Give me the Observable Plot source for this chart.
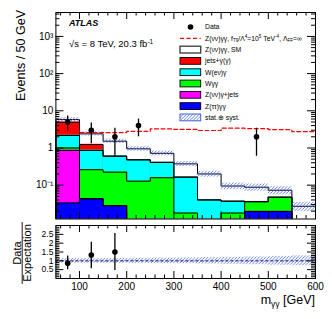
<!DOCTYPE html>
<html><head><meta charset="utf-8">
<script src="https://cdn.jsdelivr.net/npm/d3@7"></script>
<script src="https://cdn.jsdelivr.net/npm/@observablehq/plot@0.6"></script>
<style>
html,body{margin:0;padding:0;background:#fff;}
#chart{position:relative;width:332px;height:319px;overflow:hidden;font-family:"Liberation Sans",Arial,Helvetica,sans-serif;}
#chart svg{position:absolute;left:0;overflow:visible;}
</style></head><body>
<div id="chart"></div>
<script>
// ---- data ----
const edges      = [50,100,150,200,250,300,350,400,450,500,550,600];
const zTauTau    = [0.033,0.043,0.028,0,0,0,0,0,0.0195,0.0195,0];
const zNuNuGJets = [0.827,0,0,0,0,0,0,0,0,0,0];
const wGG        = [0.14,0.217,0.196,0.128,0.158,0.0178,0,0.0178,0.0165,0.0275,0];
const wEnuG      = [1.17,0.6,0.376,0.352,0.25,0.146,0.04,0.019,0,0,0];
const jetsG      = [2.73,0.38,0,0,0,0,0,0,0,0,0];
const zNuNuGG    = [0.9,1.16,0.92,0.47,0.31,0.21,0.16,0.058,0.052,0.026,0.027];
const aTGC       = [2.9,2.6,2.6,2.8,3.25,3.15,2.95,3.4,3.3,3.1,2.75];
const relUnc     = [0.13,0.13,0.13,0.14,0.15,0.16,0.18,0.2,0.22,0.25,0.28];
const dataX  = [75,125,175,225,475];
const dataY  = [5,3,2,4,2];
const dataLo = [2.8,1.3,0.6,2.0,0.6];
const dataHi = [7.2,4.7,3.4,6.0,3.4];
const ratioX  = [75,125,175];
const ratioY  = [0.87,1.33,1.5];
const ratioLo = [0.5,0.55,0.45];
const ratioHi = [1.27,2.05,2.55];
const xTicksMajor = [100,200,300,400,500,600];
const xTickLabels = ["100","200","300","400","500","600"];
const yTicksMajor = [0.1,1,10,100,1000];
const yTickLabels = ["10⁻¹","1","10","10²","10³"];
const rTicksMajor = [0.5,1,1.5,2,2.5];
const rTickLabels = ["0.5","1","1.5","2","2.5"];
const compNames  = ["Z(ττ)γγ","Z(νν)γ+jets","Wγγ","W(eν)γ","jets+γ(γ)","Z(νν)γγ, SM"];
const compColors = ["#0000ff","#ff00ff","#00ff00","#00ffff","#ff0000","#ffffff"];

// ---- setup ----
const FONT='"Liberation Sans",Arial,Helvetica,sans-serif';
const NS="http://www.w3.org/2000/svg";
const chart=document.getElementById("chart");
const defsSvg=document.createElementNS(NS,"svg");
defsSvg.setAttribute("width","0");defsSvg.setAttribute("height","0");
defsSvg.style.position="absolute";
defsSvg.innerHTML=`<defs><pattern id="hatch" patternUnits="userSpaceOnUse" width="3.2" height="3.2"><path d="M-0.8,0.8 L0.8,-0.8 M0,3.2 L3.2,0 M2.4,4 L4,2.4" stroke="#4a68e8" stroke-width="0.8"/></pattern></defs>`;
chart.appendChild(defsSvg);

const nb=edges.length-1;
const bins=d3.range(nb).map(i=>({x1:edges[i],x2:edges[i+1],i}));
const comps=[zTauTau,zNuNuGJets,wGG,wEnuG,jetsG,zNuNuGG].map((v,k)=>({v,name:compNames[k],fill:compColors[k]}));
let run=bins.map(()=>0);
comps.forEach(c=>{run=run.map((s,i)=>s+c.v[i]);c.top=run.slice();});
const total=run;
const data=dataX.map((x,i)=>({x,y:dataY[i],lo:dataLo[i],hi:dataHi[i]}));
const ratio=ratioX.map((x,i)=>({x,y:ratioY[i],lo:ratioLo[i],hi:ratioHi[i]}));

const yMin=0.0123,yMax=4400,floor=yMin*0.6;
function stepPts(vals){
  const p=[{x:edges[0],y:floor}];
  vals.forEach((v,i)=>p.push({x:edges[i],y:Math.max(v,floor)}));
  p.push({x:edges[nb],y:Math.max(vals[nb-1],floor)});
  p.push({x:edges[nb],y:floor});
  return p;
}
function linePts(vals){
  const p=vals.map((v,i)=>({x:edges[i],y:v}));
  p.push({x:edges[nb],y:vals[nb-1]});
  return p;
}
const xMinor=d3.range(60,600,20).filter(v=>v%100!==0);
const yMinor=[];
for(let d=-2;d<=3;d++)for(let k=2;k<=9;k++){const v=k*Math.pow(10,d);if(v>yMin&&v<yMax)yMinor.push(v);}
const rMinor=d3.range(1,30).map(k=>k/10).filter(v=>Math.abs(v*2-Math.round(v*2))>1e-6);

function ticks(Wf,Hf,xMaj,xMin,yMaj,yMin_,lx,sx,ly,sy){
  return [
    Plot.ruleX(xMaj,{x:d=>d,insetTop:Hf-lx,stroke:"black"}),
    Plot.ruleX(xMaj,{x:d=>d,insetBottom:Hf-lx,stroke:"black"}),
    Plot.ruleX(xMin,{x:d=>d,insetTop:Hf-sx,stroke:"black"}),
    Plot.ruleX(xMin,{x:d=>d,insetBottom:Hf-sx,stroke:"black"}),
    Plot.ruleY(yMaj,{y:d=>d,insetRight:Wf-ly,stroke:"black"}),
    Plot.ruleY(yMaj,{y:d=>d,insetLeft:Wf-ly,stroke:"black"}),
    Plot.ruleY(yMin_,{y:d=>d,insetRight:Wf-sy,stroke:"black"}),
    Plot.ruleY(yMin_,{y:d=>d,insetLeft:Wf-sy,stroke:"black"})
  ];
}
function addSvg(svg,html){
  const g=document.createElementNS(NS,"g");
  g.setAttribute("text-anchor","start");
  g.setAttribute("font-family",FONT);
  g.setAttribute("fill","black");
  g.innerHTML=html;svg.appendChild(g);
}

// ---- top panel ----
const mL=55.4,mR=17;
const Wf=332-mL-mR;
const topH=222,topMT=12,topMB=3.5,Hf=topH-topMT-topMB;
const topPlot=Plot.plot({
  width:332,height:topH,marginLeft:mL,marginRight:mR,marginTop:topMT,marginBottom:topMB,
  x:{domain:[50,600],axis:null},
  y:{type:"log",domain:[yMin,yMax],axis:null},
  style:{fontFamily:FONT,background:"transparent",color:"black",overflow:"visible"},
  marks:[
    ...comps.slice().reverse().map(c=>Plot.rectY(bins.filter(b=>c.top[b.i]>yMin),{x1:"x1",x2:"x2",y1:()=>floor,y2:b=>c.top[b.i],fill:c.fill,stroke:c.fill,strokeWidth:0.4,clip:true})),
    ...comps.map(c=>Plot.line(stepPts(c.top),{x:"x",y:"y",curve:"step-after",stroke:"black",strokeWidth:1,clip:true})),
    Plot.rectY(bins,{x1:"x1",x2:"x2",y1:b=>total[b.i]*(1-relUnc[b.i]),y2:b=>total[b.i]*(1+relUnc[b.i]),fill:"url(#hatch)",clip:true}),
    Plot.line(linePts(aTGC),{x:"x",y:"y",curve:"step-after",stroke:"#ff0000",strokeWidth:1.2,strokeDasharray:"4,2.5",clip:true}),
    Plot.ruleX(data,{x:"x",y1:"lo",y2:"hi",stroke:"black",strokeWidth:1.3}),
    Plot.dot(data,{x:"x",y:"y",r:2.8,fill:"black",stroke:"none"}),
    ...ticks(Wf,Hf,xTicksMajor,xMinor,yTicksMajor,yMinor,7,3.5,8,4),
    Plot.frame({stroke:"black",strokeWidth:1}),
    Plot.text(yTicksMajor,{x:()=>50,y:d=>d,text:(d,i)=>yTickLabels[i],textAnchor:"end",dx:-2.5,fontSize:10,fill:"black"})
  ]
});
topPlot.style.top="0px";
chart.appendChild(topPlot);

addSvg(topPlot,`
<text x="69" y="25.5" font-size="9" font-weight="bold" font-style="italic">ATLAS</text>
<text x="69" y="47" font-size="9.5">√s = 8 TeV, 20.3 fb<tspan dy="-3.5" font-size="6.5">-1</tspan></text>
<text transform="translate(24.5,10) rotate(-90)" text-anchor="end" font-size="12.5">Events / 50 GeV</text>
`);

// legend
const rowsY=[27,38.3,49.6,60.9,72.2,83.5,94.8,106.1,117.4];
const lf=6.8, sf=4.6;
const legendText=[
  "Data",
  `Z(νν)γγ, f<tspan font-size="${sf}" dy="1.5">T9</tspan><tspan dy="-1.5">/Λ</tspan><tspan font-size="${sf}" dy="-2.6">4</tspan><tspan dy="2.6">=10</tspan><tspan font-size="${sf}" dy="-2.6">5</tspan><tspan dy="2.6"> TeV</tspan><tspan font-size="${sf}" dy="-2.6">-4</tspan><tspan dy="2.6">, Λ</tspan><tspan font-size="${sf}" dy="1.5">FF</tspan><tspan dy="-1.5">=∞</tspan>`,
  ...comps.slice().reverse().map(c=>c.name),
  "stat.⊕ syst."
];
let lg="";
const bx1=180,bx2=200.7;
lg+=`<circle cx="190.5" cy="${rowsY[0]}" r="2.8" fill="black"/>`;
lg+=`<line x1="${bx1}" x2="${bx2}" y1="${rowsY[1]}" y2="${rowsY[1]}" stroke="#ff0000" stroke-width="1.2" stroke-dasharray="4,2.5"/>`;
comps.slice().reverse().forEach((c,k)=>{
  const y=rowsY[2+k];
  lg+=`<rect x="${bx1}" y="${y-3.4}" width="${bx2-bx1}" height="6.8" fill="${c.fill}" stroke="${c.fill==="#ffffff"?"#444":"black"}" stroke-width="${c.fill==="#ffffff"?1.4:0.9}"/>`;
});
lg+=`<rect x="${bx1}" y="${rowsY[8]-3.4}" width="${bx2-bx1}" height="6.8" fill="url(#hatch)" stroke="#4060e8" stroke-width="1"/>`;
legendText.forEach((t,k)=>{
  lg+=`<text x="205" y="${rowsY[k]+2.4}" font-size="${lf}">${t}</text>`;
});
addSvg(topPlot,lg);

// ---- ratio panel ----
const botTop=222,botH=97,botMT=3,botMB=41,Hr=botH-botMT-botMB;
const botPlot=Plot.plot({
  width:332,height:botH,marginLeft:mL,marginRight:mR,marginTop:botMT,marginBottom:botMB,
  x:{domain:[50,600],axis:null},
  y:{domain:[0,3],axis:null},
  style:{fontFamily:FONT,background:"transparent",color:"black",overflow:"visible"},
  marks:[
    Plot.rectY(bins,{x1:"x1",x2:"x2",y1:b=>1-relUnc[b.i],y2:b=>1+relUnc[b.i],fill:"url(#hatch)",clip:true}),
    Plot.ruleY([1],{y:d=>d,stroke:"#101060",strokeWidth:1,strokeDasharray:"3,2"}),
    Plot.ruleX(ratio,{x:"x",y1:"lo",y2:"hi",stroke:"black",strokeWidth:1.3}),
    Plot.dot(ratio,{x:"x",y:"y",r:2.8,fill:"black",stroke:"none"}),
    ...ticks(Wf,Hr,xTicksMajor,xMinor,rTicksMajor,rMinor,7,3.5,8,4),
    Plot.frame({stroke:"black",strokeWidth:1}),
    Plot.text(rTicksMajor,{x:()=>50,y:d=>d,text:(d,i)=>rTickLabels[i],textAnchor:"end",dx:-2.5,fontSize:8.5,fill:"black"}),
    Plot.text(xTicksMajor,{x:d=>d,y:()=>0,text:(d,i)=>xTickLabels[i],dy:8,fontSize:10,fill:"black"})
  ]
});
botPlot.style.top=botTop+"px";
chart.appendChild(botPlot);
addSvg(botPlot,`
<text transform="translate(20.5,31) rotate(-90)" text-anchor="middle" font-size="11">Data</text>
<line x1="22.2" x2="22.2" y1="0" y2="62" stroke="black" stroke-width="0.9"/>
<text transform="translate(31,31) rotate(-90)" text-anchor="middle" font-size="11">Expectation</text>
<text x="315" y="81.5" text-anchor="end" font-size="12.5">m<tspan font-size="8.5" dy="3">γγ</tspan><tspan dy="-3"> [GeV]</tspan></text>
`);
</script>
</body></html>
